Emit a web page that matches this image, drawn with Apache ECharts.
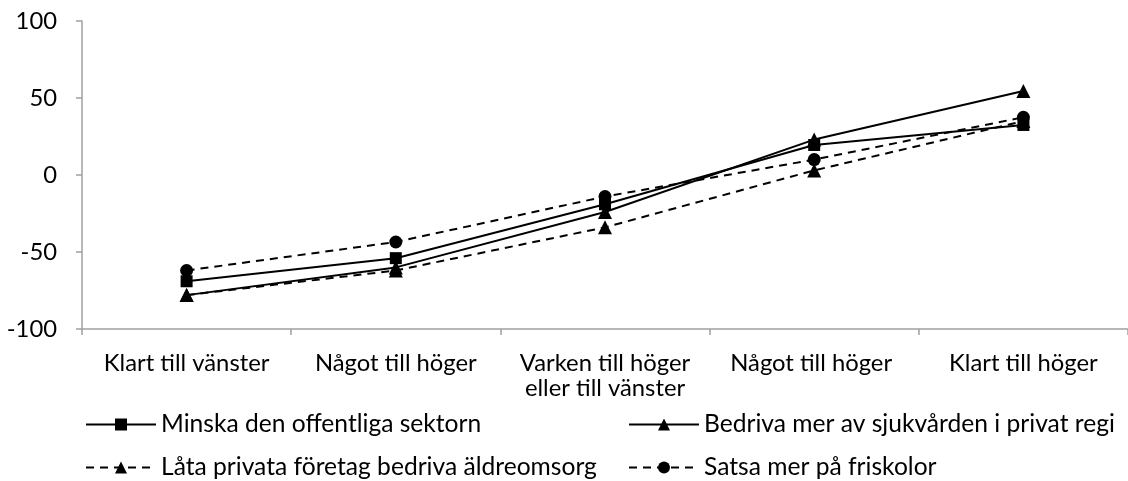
<!DOCTYPE html>
<html>
<head>
<meta charset="utf-8">
<script src="https://cdn.jsdelivr.net/npm/echarts@6/dist/echarts.min.js"></script>
<style>html,body{margin:0;padding:0;background:#fff;}#c{width:1128px;height:481px;}</style>
</head>
<body>
<div id="c"></div>
<script>
var categories = ['Klart till vänster', 'Något till höger', 'Varken till höger\neller till vänster', 'Något till höger ', 'Klart till höger'];
var seriesNames = ['Minska den offentliga sektorn', 'Bedriva mer av sjukvården i privat regi', 'Låta privata företag bedriva äldreomsorg', 'Satsa mer på friskolor'];
var minska = [-69, -54, -19, 19.5, 32.5];
var sjukvard = [-78, -60, -24, 23, 54.5];
var aldreomsorg = [-78, -62, -34, 3, 35];
var friskolor = [-62, -43.5, -14, 10, 37.5];
var yTicks = [-100, -50, 0, 50, 100];

var FONT = 'Lato, "Open Sans", sans-serif';
var FS = 23.8;
var chart = echarts.init(document.getElementById('c'));
function mk(name, data, symbol, size, dashed) {
  return {
    name: name, type: 'line', data: data, symbol: symbol, symbolSize: size,
    lineStyle: {color: '#000', width: 2, type: dashed ? [8, 6] : 'solid'},
    itemStyle: {color: '#000'},
    animation: false
  };
}
function lg(name, left, top) {
  return {
    data: [name], left: left, top: top, orient: 'horizontal',
    itemWidth: 70, itemHeight: 15, itemGap: 0,
    textStyle: {fontFamily: FONT, fontSize: 24.6, lineHeight: 24, color: '#000', padding: [0, 0, 0, 0]},
    padding: 0
  };
}
chart.setOption({
  animation: false,
  grid: {left: 82, right: 0, top: 21, bottom: 152},
  legend: [
    lg(seriesNames[0], 85, 412),
    lg(seriesNames[1], 628, 412),
    lg(seriesNames[2], 85, 455),
    lg(seriesNames[3], 628, 455)
  ],
  xAxis: {
    type: 'category', data: categories, boundaryGap: true,
    axisLine: {onZero: false, lineStyle: {color: '#a0a0a0', width: 1.5}},
    axisTick: {show: true, length: 6, lineStyle: {color: '#a0a0a0', width: 1.5}},
    axisLabel: {fontFamily: FONT, fontSize: FS, color: '#000', margin: 22, lineHeight: 25, interval: 0}
  },
  yAxis: {
    type: 'value', min: yTicks[0], max: yTicks[yTicks.length - 1], interval: 50,
    axisLine: {show: true, lineStyle: {color: '#a0a0a0', width: 1.5}},
    axisTick: {show: true, inside: false, length: 6, lineStyle: {color: '#a0a0a0', width: 1.5}},
    splitLine: {show: false},
    axisLabel: {fontFamily: FONT, fontSize: FS, color: '#000', margin: 25}
  },
  series: [
    mk(seriesNames[0], minska, 'rect', 12, false),
    mk(seriesNames[1], sjukvard, 'triangle', 14, false),
    mk(seriesNames[2], aldreomsorg, 'triangle', 14, true),
    mk(seriesNames[3], friskolor, 'circle', 13, true)
  ]
});
</script>
</body>
</html>
